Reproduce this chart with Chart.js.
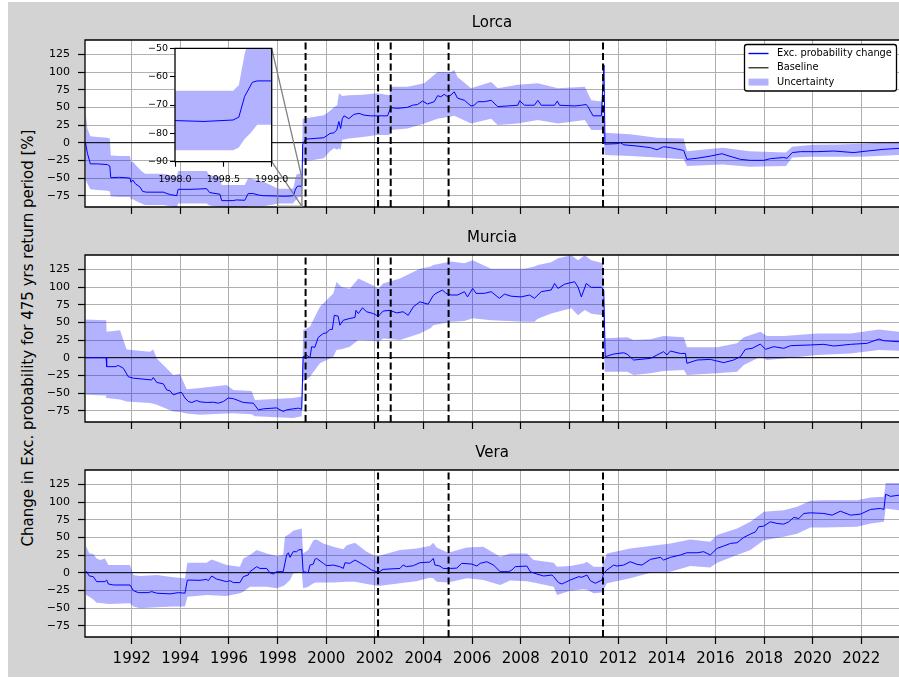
<!DOCTYPE html>
<html><head><meta charset="utf-8">
<script src="https://cdn.jsdelivr.net/npm/chart.js@4.4.1/dist/chart.umd.min.js"></script>
<style>
html,body{margin:0;padding:0;background:#fff;}
#fig{position:relative;width:899px;height:680px;overflow:hidden;background:#fff;}
#bg{position:absolute;left:8px;top:2px;width:891px;height:675px;background:#d3d3d3;}
canvas{position:absolute;}
#ylab{position:absolute;left:-222px;top:329px;width:500px;height:18px;line-height:18px;text-align:center;
  transform:rotate(-90deg);font-family:'DejaVu Sans';font-size:15px;color:#000;white-space:nowrap;}
</style></head>
<body>
<div id="fig">
  <div id="bg"></div>
  <canvas id="c1" width="899" height="225" style="left:0;top:0;z-index:1"></canvas>
  <canvas id="c2" width="899" height="225" style="left:0;top:215px;z-index:2"></canvas>
  <canvas id="c3" width="899" height="247" style="left:0;top:430px;z-index:3"></canvas>
  <canvas id="ci" width="170" height="145" style="left:130px;top:40px;z-index:6"></canvas>
  <div id="ylab">Change in Exc. probability for 475 yrs return period [%]</div>
</div>
<script>
// ---------------- DATA ----------------
const titles = ['Lorca', 'Murcia', 'Vera'];

const lorcaLineYears = [1990.10,1990.18,1990.30,1990.60,1991.00,1991.10,1991.14,1991.50,1991.93,1991.97,1992.05,1992.15,1992.35,1992.45,1992.60,1993.30,1993.45,1993.60,1993.85,1993.91,1994.40,1994.80,1995.08,1995.20,1995.63,1995.70,1996.17,1996.30,1996.65,1996.79,1997.00,1997.20,1997.40,1998.00,1998.30,1998.60,1998.66,1998.72,1998.80,1998.85,1999.00,1999.03,1999.15,1999.90,2000.15,2000.32,2000.43,2000.52,2000.59,2000.66,2000.73,2000.93,2001.14,2001.35,2001.55,2001.83,2002.10,2002.52,2002.65,2002.93,2003.34,2003.55,2003.75,2003.96,2004.16,2004.44,2004.58,2004.71,2004.85,2004.99,2005.13,2005.26,2005.40,2005.68,2005.95,2006.09,2006.23,2006.50,2006.78,2007.05,2007.46,2007.88,2007.95,2008.15,2008.56,2008.70,2008.84,2009.39,2009.50,2009.59,2010.21,2010.49,2010.69,2010.76,2010.97,2011.31,2011.42,2011.46,2011.95,2012.09,2012.23,2012.78,2013.33,2013.60,2013.87,2014.15,2014.70,2014.83,2015.25,2015.79,2016.27,2016.48,2017.03,2017.44,2017.99,2018.26,2018.81,2018.95,2019.16,2019.50,2020.18,2020.87,2021.69,2022.24,2022.93,2023.55];
const lorcaLineValues = [0,-15,-30,-30,-31,-33,-49.5,-49,-50,-56,-53,-58,-63,-69,-70,-70,-72,-73.5,-75,-66,-66,-65.5,-65,-70.5,-73,-82,-82,-81,-81.5,-72,-72,-74,-75,-75.5,-75.8,-75.3,-74.3,-67,-62,-61.5,-61.5,-2,5,7,13,14,18,30,20,34,38,34,40,41.5,39,38,38,38,49.5,48.6,50,53,54,59,54.7,58,66.5,65,68.4,65,67.5,72,63,60,52,53,58,58,60,51,52,53,59.4,53,53,60,53,53,59,53,52,53,54,51,38,38,110,-2,-1.4,0,-3,-4.7,-7,-10,-5.7,-7,-11,-23.6,-22,-19,-15.6,-18,-23.6,-25,-25,-22.6,-21,-22,-14,-12.7,-12.7,-11.8,-14,-11.8,-9.4,-8];
const lorcaBandYears = [1990.10,1990.18,1990.30,1990.60,1991.00,1991.10,1991.14,1991.50,1991.93,1991.97,1992.05,1992.20,1992.40,1992.55,1993.30,1993.60,1993.85,1993.91,1994.80,1995.08,1995.20,1995.63,1995.70,1996.65,1996.79,1997.40,1997.90,1998.00,1998.60,1998.66,1998.72,1998.78,1998.85,1999.00,1999.03,1999.90,2000.15,2000.32,2000.45,2000.52,2000.59,2000.66,2000.93,2001.50,2002.10,2002.60,2002.65,2003.34,2004.03,2004.58,2005.13,2005.26,2005.40,2005.95,2006.78,2007.05,2007.88,2008.70,2009.53,2010.63,2010.90,2011.38,2011.45,2012.50,2013.60,2014.70,2014.83,2016.30,2017.40,2018.90,2019.16,2020.00,2021.00,2022.00,2023.55];
const lorcaBandLow = [-52,-58,-66,-67,-68,-69,-76,-77,-77,-80,-80,-83,-86,-88,-88,-90,-92,-86,-86,-86,-89,-91,-98,-98,-90,-90,-87,-86,-86,-85,-82,-80,-77,-77,-27,-22,-12,-8,-10,-8,-10,4,6,8,11,11,18,20,27,34,37,38,36,27,34,25,27,32,27,32,18,18,-17.5,-19,-21,-23.6,-33,-30.7,-34,-33,-21,-20,-20,-20,-17.5];
const lorcaBandHigh = [45,20,9,8,7,6,-18,-19,-19,-28,-27,-33,-40,-44,-44,-46,-48,-40,-40,-40,-46,-48,-60,-60,-50,-55,-63,-65,-65,-63,-52,-45,-44,-44,34,39,45,50,53,70,68,66,67,68,70,67,79,79,84,100,100,103,93,77,86,77,82,84,77,79,60,58,14,12,7,6,-12,-7,-12,-14,-5.7,-3,-2.4,-1.4,1.4];

const murciaLineYears = [1990.10,1990.95,1990.97,1991.32,1991.45,1991.66,1991.86,1992.07,1992.82,1992.89,1993.03,1993.30,1993.44,1993.58,1993.71,1993.92,1994.05,1994.19,1994.33,1994.47,1994.67,1994.81,1995.08,1995.36,1995.56,1995.77,1995.97,1996.18,1996.38,1996.59,1997.00,1997.21,1997.41,1997.96,1998.10,1998.23,1998.37,1998.64,1998.85,1998.99,1999.05,1999.19,1999.33,1999.40,1999.53,1999.67,1999.88,2000.01,2000.15,2000.25,2000.33,2000.49,2000.56,2000.70,2000.97,2001.18,2001.22,2001.32,2001.49,2001.66,2001.93,2002.14,2002.34,2002.62,2002.89,2003.16,2003.37,2003.58,2003.85,2004.19,2004.40,2004.51,2004.78,2004.92,2005.13,2005.40,2005.68,2005.81,2006.02,2006.16,2006.50,2006.78,2007.12,2007.33,2007.60,2008.01,2008.36,2008.56,2008.84,2009.25,2009.39,2009.53,2009.80,2010.21,2010.35,2010.49,2010.69,2010.90,2011.31,2011.41,2011.47,2011.82,2012.23,2012.37,2012.64,2013.33,2013.60,2013.87,2014.01,2014.15,2014.56,2014.77,2014.83,2015.25,2015.79,2016.34,2016.75,2017.03,2017.23,2017.51,2017.85,2018.06,2018.40,2018.81,2019.09,2019.91,2020.46,2020.87,2021.56,2022.24,2022.72,2022.93,2023.55];
const murciaLineValues = [0,0,-12.7,-12.7,-11,-15,-27,-29,-31.5,-28,-35,-37,-45.6,-47,-52.6,-50,-49,-57,-62,-63.4,-60.6,-62.5,-63.4,-63,-64.4,-62,-57,-58,-60.6,-63.4,-64.4,-73.8,-72.4,-71,-73.8,-76,-73.8,-72.4,-71.4,-73,1.4,3.8,0,15.5,14.6,28.7,34.3,35,40,40,60,58.7,46,53,55.5,56.9,67,62.5,70.5,65,62.5,58.7,66,67,63.4,65,60,72,79,75.7,88,91,95.8,91,88.7,88.7,93.4,86,98,91,91,93.4,84,90,87,86,88.7,84,93.4,95.8,105,98,104,107.5,100,86,105,99.5,99.5,95.8,1.4,5.2,7,5,-3.3,-1,3.8,8.5,3.8,9.4,6,6,-8,-3.3,-2.4,-7,-3.3,1.4,11.8,13.2,19.3,11.8,15.6,13.2,17,18,18.9,16.5,18.9,20.3,26.4,24,22.6];
const murciaBandYears = [1990.10,1990.95,1990.97,1991.52,1991.79,1992.75,1992.89,1993.03,1993.71,1993.99,1994.26,1994.81,1995.90,1996.18,1996.93,1997.07,1998.64,1998.99,1999.05,1999.33,1999.74,2000.29,2000.42,2000.63,2000.97,2001.32,2001.93,2002.14,2002.34,2003.03,2003.85,2004.30,2004.40,2005.13,2005.68,2006.02,2006.78,2008.15,2008.56,2008.70,2009.25,2009.53,2010.08,2010.35,2010.63,2010.90,2011.38,2011.45,2012.37,2012.64,2013.33,2013.87,2014.70,2014.83,2016.07,2016.89,2017.17,2017.85,2018.12,2018.81,2020.18,2021.56,2022.72,2023.55];
const murciaBandLow = [-52.6,-53.6,-57,-59,-62,-64,-65,-66.7,-76,-77,-79,-80.8,-79,-78.5,-80,-83,-85.5,-83,-33.8,-26.8,-8,1.4,10.8,12,15.5,25,24,22.6,27.3,25,34.3,42,46,51,52,55.7,53,51,51,55,62.7,65,70,60,67.5,62,60,-19.8,-19.8,-24.5,-22,-19,-17.5,-24.5,-22,-19.8,-10.4,1.4,-3.3,-1,3.8,6,10.8,9.9];
const murciaBandHigh = [54,53,36.7,39,11.7,8.5,11.7,-1,-24.4,-23,-44.6,-43,-38.5,-45.6,-47,-59.7,-57,-55,39,43.7,72,90.7,107,100,97.7,112,102,97.7,104.8,112,126,129,131,136,133.5,138,126,126,129,131,135,140.6,145,138,145,138,133.5,27.4,28.8,25,26,30.7,28.8,14.6,14.6,20.3,28.8,36.8,30.7,30.7,34.4,34.4,40,36.8];

const veraLineYears = [1990.12,1990.26,1990.42,1990.56,1990.90,1990.97,1991.04,1991.25,1991.93,1992.07,1992.27,1992.68,1992.82,1993.03,1993.58,1993.92,1994.19,1994.29,1994.81,1995.08,1995.15,1995.29,1995.49,1995.90,1996.04,1996.18,1996.45,1996.59,1996.79,1996.86,1997.14,1997.27,1997.55,1997.68,1997.82,1997.96,1998.23,1998.37,1998.44,1998.51,1998.64,1998.78,1998.85,1998.99,1999.05,1999.26,1999.33,1999.47,1999.53,1999.60,1999.88,2000.01,2000.29,2000.56,2000.70,2000.77,2000.97,2001.18,2001.38,2001.66,2001.86,2002.14,2002.34,2003.03,2003.16,2003.30,2003.58,2003.85,2004.26,2004.40,2004.47,2004.67,2004.81,2005.10,2005.37,2005.57,2005.99,2006.19,2006.33,2006.60,2006.88,2007.15,2007.50,2007.63,2007.77,2008.25,2008.39,2008.66,2008.94,2009.28,2009.35,2009.55,2009.69,2010.03,2010.38,2010.51,2010.72,2010.86,2011.06,2011.34,2011.40,2011.54,2011.82,2011.95,2012.23,2012.50,2012.78,2012.98,2013.33,2013.74,2013.87,2014.15,2014.56,2014.83,2015.25,2015.52,2015.79,2016.07,2016.34,2016.62,2016.89,2017.17,2017.44,2017.65,2017.78,2017.99,2018.26,2018.54,2018.81,2019.02,2019.22,2019.43,2019.64,2019.91,2020.46,2020.80,2021.14,2021.56,2021.97,2022.38,2022.79,2022.93,2023.00,2023.20,2023.55];
const veraLineValues = [2.4,-4.7,-5.6,-12.7,-12.7,-10.4,-16,-17.4,-17.4,-25.4,-28.2,-28.2,-26.8,-29,-30,-28.2,-29,-10.4,-10.8,-9.4,-11.3,-4.7,-9,-12.7,-11.3,-14,-14,-5.6,-3.3,1.4,8.5,6,6,0,-1.9,1.4,1.4,25,28.2,21.7,29.7,29.7,32,33,1.4,0,10.8,12.2,18.8,20.2,13.2,9.9,10.8,8.5,6,14.1,13.2,17.9,14.1,8.5,3.8,0.5,4.7,6,10.8,8.5,9.9,14.1,15,20.2,10.8,9.4,6,6,6.5,13.2,12.2,9.4,13.2,15.5,10.8,1.4,1.4,3.8,8.5,9.4,1.4,-1.9,-4.7,-3.3,-5.6,-14.1,-16,-10.4,-5.6,-6.5,-3.3,-11.3,-15,-10.4,-1,3.8,10.8,9.4,10.8,15.5,11.8,10.8,18.8,21.7,17.9,21.7,25,28.2,28.2,29.7,25,34.4,37.7,41.4,42.4,50,54.6,57.9,65,65.9,72,69.6,68.7,72,78.2,76.7,83.8,84.7,83.8,81.4,87,81.4,82.9,89.5,90.9,89.5,111,108,109.7];
const veraBandYears = [1990.12,1990.26,1990.42,1990.56,1990.70,1990.90,1991.04,1991.93,1992.07,1992.34,1993.03,1993.71,1994.19,1994.29,1995.08,1995.29,1995.90,1996.45,1996.59,1996.86,1997.14,1997.55,1997.96,1998.23,1998.30,1998.51,1998.64,1998.99,1999.05,1999.26,1999.47,1999.60,1999.88,2000.29,2000.70,2000.84,2001.18,2001.66,2001.93,2002.14,2003.03,2003.71,2004.26,2004.40,2004.54,2005.01,2005.78,2006.46,2007.15,2007.56,2008.25,2008.53,2009.35,2009.49,2010.03,2010.58,2010.72,2010.99,2011.34,2011.54,2012.50,2013.33,2014.15,2014.97,2015.79,2016.07,2016.89,2017.44,2017.99,2018.81,2019.36,2019.91,2020.46,2021.83,2022.38,2022.93,2023.00,2023.55];
const veraBandLow = [-31.5,-33.9,-38,-42.4,-43,-43.5,-44.3,-43.3,-48,-50.4,-49,-48,-48,-33.9,-31.5,-32,-33,-29,-27,-19.8,-19.8,-19.8,-22,-19,-17.4,-10.4,-1,1.4,-22,-19.8,-15,-14,-14,-14,-13,-12.7,-12.7,-16,-17.4,-18.8,-15,-12,-7,-8,-12.7,-14,-8,-10.4,-17.4,-11,-12,-14,-19.8,-31.5,-25.4,-23.5,-24,-29,-28.2,-15,-8,0,1.4,9.4,7.5,14.1,25,32,46,50.8,55,64,64,65,69.7,72,90.9,88.5];
const veraBandHigh = [37.7,27.3,26.4,20,17.9,20.2,10.8,10.8,-3.3,-4.7,-3.3,-6.6,-8,14.1,14.1,18.8,10.8,8.5,20.2,25,32,27.3,23.5,25,50.8,55.6,59.3,62.6,27.3,32,46,47,41.4,36.7,33,39,42.4,29.7,25,23.5,32,34.4,37.7,42.4,35.8,28.2,35.8,36.7,22.6,27.3,27.3,17.9,14.1,8.5,9.4,13,15.5,8.5,8.5,27.3,34.4,37.7,41.4,47,43.8,53.2,62.6,72,86.2,88.5,93.2,101.7,102.6,102.6,106.4,107.3,127,127];

// event (dashed) lines
const lorcaEvents = [1999.15, 2002.13, 2002.65, 2005.03, 2011.38];
const murciaEvents = [1999.15, 2002.13, 2002.65, 2005.03, 2011.38];
const veraEvents = [2002.13, 2005.03, 2011.38];

// axis settings
const X_MIN = 1990.08, X_MAX = 2023.55, X_STEP = 2;
const Y_MIN = -91, Y_MAX = 145.3, Y_STEP = 25;
const baselineValue = 0;
const insetXRange = [1998, 1999], insetYRange = [-90, -50];
const legendLabels = ['Exc. probability change', 'Baseline', 'Uncertainty'];

// ---------------- CHARTS ----------------
const FONT = 'DejaVu Sans';
Chart.defaults.font.family = FONT;
const BLUE = '#0000ff', FILL = 'rgba(0,0,255,0.3)';

function pts(xs, ys) {
  if (xs.length !== ys.length) console.error('length mismatch', xs.length, ys.length);
  return xs.map((x, i) => ({x, y: ys[i]}));
}
const fmtNum = v => (v < 0 ? '\u2212' + Math.abs(v) : String(v));

const whiteArea = {
  id: 'whiteArea',
  beforeDraw(chart) {
    const {ctx, chartArea: a} = chart;
    ctx.save(); ctx.fillStyle = '#fff';
    ctx.fillRect(a.left, a.top, a.right - a.left, a.bottom - a.top);
    ctx.restore();
  }
};
const frame = {
  id: 'frame',
  afterDatasetsDraw(chart, args, opts) {
    const {ctx, chartArea: a} = chart;
    ctx.save(); ctx.strokeStyle = '#000'; ctx.lineWidth = 1.3;
    ctx.beginPath();
    if (opts.right) {
      ctx.rect(a.left, a.top, a.right - a.left, a.bottom - a.top);
    } else {
      ctx.moveTo(a.right + 2, a.top); ctx.lineTo(a.left, a.top);
      ctx.lineTo(a.left, a.bottom); ctx.lineTo(a.right + 2, a.bottom);
    }
    ctx.stroke(); ctx.restore();
  }
};

function baseDatasets(lineX, lineY, bandX, bandLo, bandHi) {
  return [
    {data: pts(bandX, bandHi), borderWidth: 0, borderColor: 'transparent', backgroundColor: FILL, fill: '+1', pointRadius: 0, order: 5, clip: 0},
    {data: pts(bandX, bandLo), borderWidth: 0, borderColor: 'transparent', backgroundColor: FILL, fill: false, pointRadius: 0, order: 5, clip: 0},
    {data: pts(lineX, lineY), borderColor: BLUE, borderWidth: 1, pointRadius: 0, fill: false, order: 2, clip: 0}
  ];
}

function makePanel(id, title, lineX, lineY, bandX, bandLo, bandHi, events, showX, xAxisH, extraPlugins) {
  const ds = baseDatasets(lineX, lineY, bandX, bandLo, bandHi);
  ds.push({data: pts([X_MIN, X_MAX], [baselineValue, baselineValue]), borderColor: '#000', borderWidth: 1, pointRadius: 0, fill: false, order: 3, clip: 0});
  events.forEach(e => ds.push({data: pts([e, e], [Y_MIN, Y_MAX]), borderColor: '#000', borderWidth: 2, borderDash: [7, 3.5], pointRadius: 0, fill: false, order: 1, clip: 0}));
  return new Chart(document.getElementById(id), {
    type: 'line',
    data: {datasets: ds},
    options: {
      responsive: false, animation: false, devicePixelRatio: 1, events: [],
      layout: {padding: 0},
      plugins: {
        legend: {display: false}, tooltip: {enabled: false},
        title: {display: true, text: title, fullSize: false, color: '#000',
          font: {family: FONT, size: 15, weight: 'normal'}, padding: {top: 14, bottom: 8}},
        frame: {right: false}
      },
      scales: {
        x: {type: 'linear', min: X_MIN, max: X_MAX,
          ticks: {stepSize: X_STEP, includeBounds: false, autoSkip: false, maxRotation: 0, color: '#000',
            font: {family: FONT, size: 15}, padding: 6, callback: v => showX ? String(v) : ''},
          grid: {color: '#b0b0b0', lineWidth: 1, tickColor: '#000', tickLength: 7, tickWidth: 1.2},
          border: {display: false},
          afterFit: s => { s.height = xAxisH; }
        },
        y: {type: 'linear', min: Y_MIN, max: Y_MAX,
          ticks: {stepSize: Y_STEP, includeBounds: false, autoSkip: false, color: '#000',
            font: {family: FONT, size: 11}, padding: 8, callback: v => fmtNum(v)},
          grid: {color: '#b0b0b0', lineWidth: 1, tickColor: '#000', tickLength: 7, tickWidth: 1.2},
          border: {display: false},
          afterFit: s => { s.width = 85; }
        }
      }
    },
    plugins: [whiteArea, frame].concat(extraPlugins || [])
  });
}

// Inset chart (zoom of Lorca)
const INSET_LEFT = 130, INSET_TOP = 40;
const insetChart = new Chart(document.getElementById('ci'), {
  type: 'line',
  data: {datasets: baseDatasets(lorcaLineYears, lorcaLineValues, lorcaBandYears, lorcaBandLow, lorcaBandHigh)},
  options: {
    responsive: false, animation: false, devicePixelRatio: 1, events: [],
    layout: {padding: {top: 8.3, right: 28.3, left: 0, bottom: 0}},
    plugins: {legend: {display: false}, tooltip: {enabled: false}, title: {display: false}, frame: {right: true}},
    scales: {
      x: {type: 'linear', min: insetXRange[0], max: insetXRange[1],
        ticks: {stepSize: 0.5, autoSkip: false, maxRotation: 0, color: '#000', font: {family: FONT, size: 9.5}, padding: 7, callback: v => v.toFixed(1)},
        grid: {drawOnChartArea: false, tickLength: 5, tickColor: '#000', tickWidth: 1.1},
        border: {display: false},
        afterFit: s => { s.height = 23.3; }
      },
      y: {type: 'linear', min: insetYRange[0], max: insetYRange[1],
        ticks: {stepSize: 10, autoSkip: false, color: '#000', font: {family: FONT, size: 9.5}, padding: 2, callback: v => fmtNum(v)},
        grid: {drawOnChartArea: false, tickLength: 5, tickColor: '#000', tickWidth: 1.1},
        border: {display: false},
        afterFit: s => { s.width = 45; }
      }
    }
  },
  plugins: [whiteArea, frame]
});

const insetMark = {
  id: 'insetMark',
  afterDatasetsDraw(chart) {
    const {ctx} = chart, xs = chart.scales.x, ys = chart.scales.y;
    const ia = insetChart.chartArea;
    const x1 = xs.getPixelForValue(insetXRange[0]), x2 = xs.getPixelForValue(insetXRange[1]);
    const y1 = ys.getPixelForValue(insetYRange[1]), y2 = ys.getPixelForValue(insetYRange[0]);
    ctx.save(); ctx.strokeStyle = '#808080'; ctx.lineWidth = 1.3;
    ctx.strokeRect(x1, y1, x2 - x1, y2 - y1);
    ctx.beginPath();
    ctx.moveTo(INSET_LEFT + ia.right, INSET_TOP + ia.top); ctx.lineTo(x2, y1);
    ctx.moveTo(INSET_LEFT + ia.right, INSET_TOP + ia.bottom); ctx.lineTo(x2, y2);
    ctx.stroke(); ctx.restore();
  }
};

const legendBox = {
  id: 'legendBox',
  afterDraw(chart) {
    const {ctx, chartArea: a} = chart;
    const bx = a.right - 154.5, by = a.top + 4.5, bw = 152, bh = 46.5, r = 2.5;
    ctx.save();
    ctx.beginPath();
    ctx.moveTo(bx + r, by); ctx.lineTo(bx + bw - r, by); ctx.arcTo(bx + bw, by, bx + bw, by + r, r);
    ctx.lineTo(bx + bw, by + bh - r); ctx.arcTo(bx + bw, by + bh, bx + bw - r, by + bh, r);
    ctx.lineTo(bx + r, by + bh); ctx.arcTo(bx, by + bh, bx, by + bh - r, r);
    ctx.lineTo(bx, by + r); ctx.arcTo(bx, by, bx + r, by, r); ctx.closePath();
    ctx.fillStyle = '#fff'; ctx.fill();
    ctx.strokeStyle = '#000'; ctx.lineWidth = 1.3; ctx.stroke();
    const hx0 = bx + 4, hx1 = bx + 24, tx = bx + 32.5;
    const rows = [by + 9, by + 23.3, by + 37.6];
    ctx.lineWidth = 1.4; ctx.strokeStyle = BLUE;
    ctx.beginPath(); ctx.moveTo(hx0, rows[0]); ctx.lineTo(hx1, rows[0]); ctx.stroke();
    ctx.lineWidth = 1.1; ctx.strokeStyle = '#000';
    ctx.beginPath(); ctx.moveTo(hx0, rows[1]); ctx.lineTo(hx1, rows[1]); ctx.stroke();
    ctx.fillStyle = FILL; ctx.fillRect(hx0, rows[2] - 3.5, hx1 - hx0, 7);
    ctx.fillStyle = '#000'; ctx.font = '9.8px "DejaVu Sans"'; ctx.textBaseline = 'middle'; ctx.textAlign = 'left';
    legendLabels.forEach((t, i) => ctx.fillText(t, tx, rows[i]));
    ctx.restore();
  }
};

makePanel('c1', titles[0], lorcaLineYears, lorcaLineValues, lorcaBandYears, lorcaBandLow, lorcaBandHigh, lorcaEvents, false, 18, [insetMark, legendBox]);
makePanel('c2', titles[1], murciaLineYears, murciaLineValues, murciaBandYears, murciaBandLow, murciaBandHigh, murciaEvents, false, 18, []);
makePanel('c3', titles[2], veraLineYears, veraLineValues, veraBandYears, veraBandLow, veraBandHigh, veraEvents, true, 40, []);
</script>
</body></html>
